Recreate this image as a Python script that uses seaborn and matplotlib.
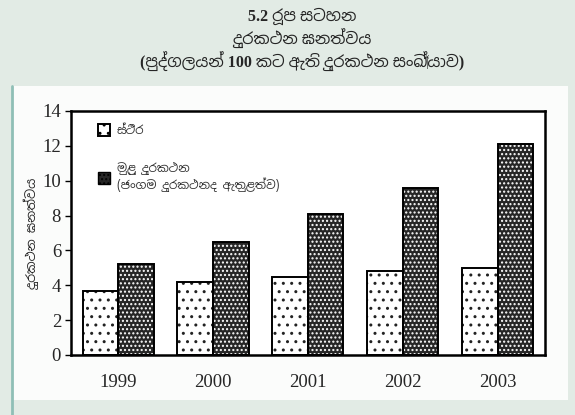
import matplotlib
matplotlib.use("Agg")
import matplotlib.pyplot as plt
from matplotlib import font_manager
from matplotlib.patches import Rectangle, Patch
import seaborn as sns
import pandas as pd

# Telephone density, per 100 persons
years = ["1999", "2000", "2001", "2002", "2003"]
fixed_lines = [3.7, 4.2, 4.5, 4.8, 5.0]
all_phones = [5.2, 6.5, 8.1, 9.6, 12.1]

series_fixed = "ස්ථිර"
series_total = "මුළු දුරකථන\n(ජංගම දුරකථනද ඇතුළත්ව)"
title_lines = "5.2 රූප සටහන\nදුරකථන ඝනත්වය\n(පුද්ගලයන් 100 කට ඇති දුරකථන සංඛ්‍යාව)"
y_label = "දුරකථන ඝනත්වය"
y_ticks = [0, 2, 4, 6, 8, 10, 12, 14]

df = pd.DataFrame({
    "year": years * 2,
    "value": fixed_lines + all_phones,
    "series": [series_fixed] * len(years) + [series_total] * len(years),
})

sns.set_theme(style="white")
sinhala = sorted({f.name for f in font_manager.fontManager.ttflist if "Sinhala" in f.name})
serif_fam = ["Liberation Serif"] + sinhala + ["DejaVu Sans"]
sans_fam = sinhala + ["Liberation Sans", "DejaVu Sans"]
plt.rcParams["font.family"] = sans_fam

fig = plt.figure(figsize=(5.75, 4.15), dpi=100)
fig.patch.set_facecolor("#e2ebe5")

# light panel behind the chart
fig.add_artist(Rectangle((0.021, 0.036), 0.967, 0.756, transform=fig.transFigure,
                         facecolor="#fbfcfb", edgecolor="none", zorder=0))
fig.add_artist(plt.Line2D([0.021, 0.021], [0.0, 0.792], transform=fig.transFigure,
                          color="#8fbfb6", lw=2.0, zorder=1))

ax = fig.add_axes([0.123, 0.1446, 0.825, 0.588])
ax.set_facecolor("white")

sns.barplot(data=df, x="year", y="value", hue="series", hue_order=[series_fixed, series_total],
            palette=["white", "#262626"], saturation=1, width=0.75, gap=0,
            linewidth=0, legend=False, ax=ax)

# dotted fills with black outlines
n = len(years)
for i, bar in enumerate(ax.patches[: 2 * n]):
    if i < n:
        bar.set_hatch("..")
        bar.set_edgecolor("#222222")
    else:
        bar.set_hatch("....")
        bar.set_edgecolor("white")
    bar.set_linewidth(0)
    ax.add_patch(Rectangle(bar.get_xy(), bar.get_width(), bar.get_height(),
                           fill=False, edgecolor="black", lw=1.4, zorder=3))

ax.set_xlim(-0.5, n - 0.5)
ax.set_ylim(0, 14)
ax.set_yticks(y_ticks)
ax.set_xlabel("")
ax.set_ylabel(y_label, fontsize=9, family=sans_fam, labelpad=2)
ax.tick_params(axis="y", left=True, length=4, width=1, direction="out", pad=3,
               labelsize=13.5, color="black")
ax.tick_params(axis="x", bottom=False, pad=8, labelsize=13.5)
for lbl in ax.get_yticklabels() + ax.get_xticklabels():
    lbl.set_family(serif_fam)
for s in ax.spines.values():
    s.set_color("black")
    s.set_linewidth(1.8)

# legend
h_fixed = Patch(facecolor="white", edgecolor="black", hatch="..", lw=1.4)
h_total = Patch(facecolor="#262626", edgecolor="black", hatch="....", lw=1.0)
leg = ax.legend([h_fixed, h_total], [series_fixed, series_total], loc="upper left",
                bbox_to_anchor=(0.035, 0.99), frameon=False, fontsize=8.5,
                handlelength=1.0, handleheight=1.2, labelspacing=2.1, handletextpad=0.6)
for t in leg.get_texts():
    t.set_color("#333333")

fig.text(0.525, 0.982, title_lines, ha="center", va="top", fontsize=11.5,
         fontweight="bold", family=serif_fam, linespacing=1.2)

fig.savefig("out.png", dpi=100, facecolor=fig.get_facecolor())
